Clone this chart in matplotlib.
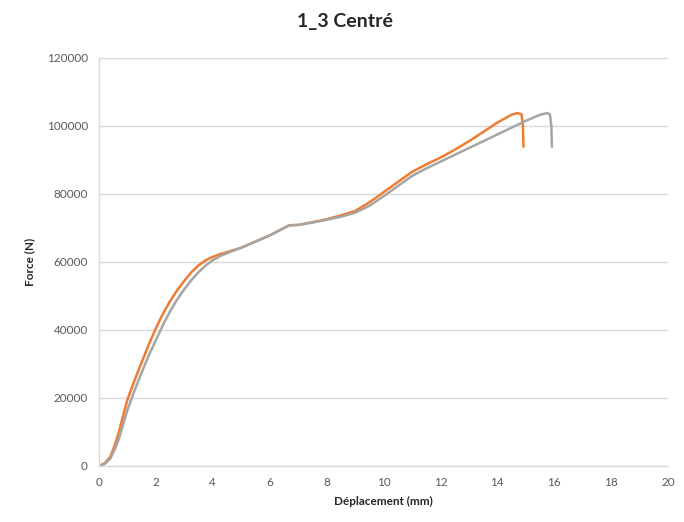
import matplotlib
matplotlib.use("Agg")
import matplotlib.pyplot as plt

# Series 1 (orange)
x_orange = [0, 0.2, 0.4, 0.55, 0.7, 0.85, 1.0, 1.25, 1.5, 1.75, 2.0, 2.25, 2.5, 2.75,
            3.0, 3.25, 3.5, 3.75, 4.0, 4.25, 4.5, 5.0, 5.5, 6.0,
            6.5, 6.7, 7.0, 7.5, 8.0, 8.5, 9.0, 9.5, 10.0, 10.5, 11.0, 11.5, 12.0,
            12.5, 13.0, 13.5, 14.0, 14.5, 14.7, 14.85, 14.9, 14.92]
y_orange = [0, 800, 2700, 6000, 10000, 14800, 19500, 25200, 30500, 35700, 40500,
            44800, 48500, 51700, 54500, 57000, 59000, 60500, 61500, 62300,
            62900, 64200, 66000, 67800, 70000, 70800, 70900, 71700, 72600, 73700,
            75000, 77500, 80500, 83500, 86500, 88700, 90700, 93000, 95500, 98200,
            101000, 103300, 103800, 103500, 100000, 94000]

# Series 2 (gray)
x_gray = [0, 0.2, 0.4, 0.55, 0.7, 0.85, 1.0, 1.25, 1.5, 1.75, 2.0, 2.25, 2.5, 2.75,
          3.0, 3.25, 3.5, 3.75, 4.0, 4.25, 4.5, 5.0, 5.5, 6.0,
          6.5, 6.7, 7.0, 7.5, 8.0, 8.5, 9.0, 9.5, 10.0, 10.5, 11.0, 11.5, 12.0,
          12.5, 13.0, 13.5, 14.0, 14.5, 15.0, 15.5, 15.75, 15.85, 15.9, 15.92]
y_gray = [0, 600, 2200, 4800, 8000, 12200, 16500, 22200, 27500, 32500, 37000,
          41500, 45500, 49000, 52000, 54700, 57000, 59000, 60500, 61700,
          62600, 64200, 66000, 67800, 70000, 70800, 70900, 71600, 72400, 73300,
          74500, 76500, 79300, 82300, 85300, 87500, 89500, 91500, 93500, 95500,
          97500, 99500, 101500, 103300, 103800, 103400, 100000, 94000]

title = "1_3 Centré"
xlabel = "Déplacement (mm)"
ylabel = "Force (N)"
xticks = [0, 2, 4, 6, 8, 10, 12, 14, 16, 18, 20]
yticks = [0, 20000, 40000, 60000, 80000, 100000, 120000]

plt.rcParams['font.family'] = ['Lato', 'DejaVu Sans']

fig = plt.figure(figsize=(6.84, 5.22), dpi=100)
ax = fig.add_axes([0.1447, 0.1073, 0.8319, 0.7816])

ax.plot(x_orange, y_orange, color='#ED7D31', lw=1.8, solid_joinstyle='round')
ax.plot(x_gray, y_gray, color='#A5A5A5', lw=1.8, solid_joinstyle='round')

ax.set_xlim(0, 20)
ax.set_ylim(0, 120000)
ax.set_xticks(xticks)
ax.set_yticks(yticks)
ax.set_xticklabels([str(t) for t in xticks])
ax.set_yticklabels([str(t) for t in yticks])
ax.tick_params(axis='both', length=0, labelsize=8.5, colors='#595959', pad=8)
ax.grid(axis='y', color='#d9d9d9', lw=1)
ax.set_axisbelow(True)
for s in ['top', 'right']:
    ax.spines[s].set_visible(False)
for s in ['left', 'bottom']:
    ax.spines[s].set_color('#d9d9d9')
    ax.spines[s].set_linewidth(1)

ax.set_xlabel(xlabel, fontsize=8.5, fontweight='bold', color='#262626', labelpad=6)
ax.set_ylabel(ylabel, fontsize=8.5, fontweight='bold', color='#262626', labelpad=8)
fig.text(0.505, 0.958, title, fontsize=14, fontweight='bold', color='#262626',
         ha='center', va='center')

fig.savefig("out.png", dpi=100, facecolor='white')
